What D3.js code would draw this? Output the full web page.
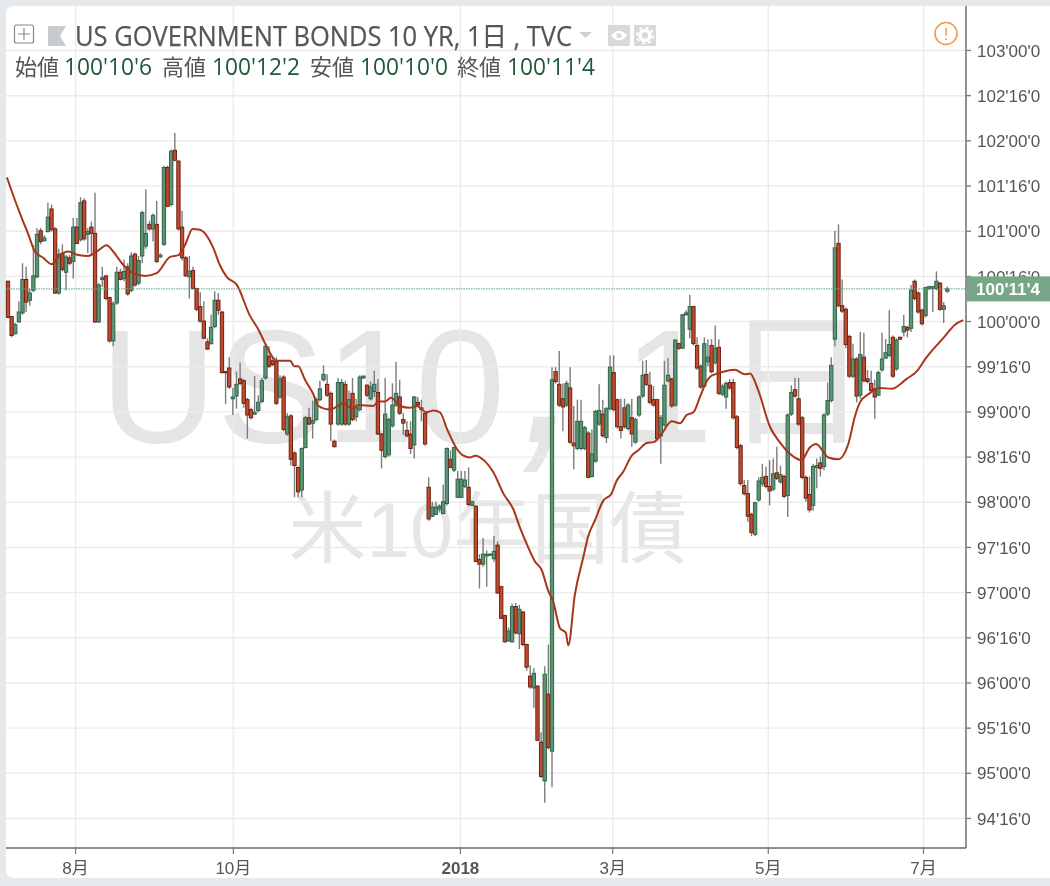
<!DOCTYPE html>
<html><head><meta charset="utf-8">
<script src="https://cdn.jsdelivr.net/npm/d3@7"></script>
<style>
html,body{margin:0;padding:0;background:#e6e9ec;overflow:hidden}
svg{display:block;filter:blur(0.35px)}
text{font-family:"Liberation Sans",Arial,sans-serif}
</style></head><body>
<svg id="c" width="1050" height="886"></svg>
<script>
const chartTitle = "US GOVERNMENT BONDS 10 YR, 1日 , TVC";
const watermarkSub = "米10年国債";
const ohlcLabels = ["始値","高値","安値","終値"];
const ohlcValues = ["100'10'6","100'12'2","100'10'0","100'11'4"];
const lastLabel = "100'11'4";
const lastClose = 100.356;
const priceTicks = [103,102.5,102,101.5,101,100.5,100,99.5,99,98.5,98,97.5,97,96.5,96,95.5,95,94.5];
const monthLabels = ["8月","10月","2018","3月","5月","7月"];
const monthSessions = [18.5,62,124.6,166.6,209.5,252.3];

const opens = [
100.44,100.05,99.86,99.99,100.09,100.46,100.23,100.34,100.49,101.00,
100.89,100.99,101.24,101.02,100.31,100.75,100.54,100.70,100.66,101.04,
100.90,101.33,100.96,101.04,100.97,99.99,100.46,100.50,100.26,99.78,
100.20,100.54,100.47,100.60,100.34,100.74,100.42,100.72,100.83,101.07,
101.02,101.07,100.71,100.85,101.70,101.29,101.89,101.77,101.04,100.70,
100.49,100.56,100.36,100.16,100.00,99.77,99.75,99.94,100.23,100.10,
99.44,99.48,99.14,99.17,99.36,99.34,99.13,99.02,98.97,99.01,
99.11,99.37,99.61,99.56,99.55,99.16,99.38,98.75,98.95,98.54,
98.38,98.13,98.60,98.93,98.87,98.91,99.13,99.35,99.30,99.20,
98.67,98.86,98.86,99.30,98.86,99.20,98.94,99.02,99.37,99.29,
99.14,99.22,99.21,98.75,98.50,98.52,98.84,99.07,99.16,98.91,
98.79,98.75,98.63,99.10,99.02,98.98,98.16,97.84,97.86,97.92,
97.87,97.98,98.47,98.35,98.05,98.05,98.17,98.16,97.96,97.95,
97.36,97.31,97.40,97.41,97.37,97.52,97.06,96.74,96.46,96.45,
96.84,96.54,96.78,96.42,96.07,95.94,95.96,95.34,94.91,95.87,
95.24,99.44,99.30,99.14,99.07,99.26,98.65,98.59,98.59,98.59,
98.76,98.28,98.45,98.86,98.97,98.71,99.03,99.43,99.13,98.83,
99.04,98.81,98.93,98.66,98.96,99.17,99.41,99.29,99.13,99.13,
98.73,98.85,99.34,99.36,99.07,99.75,99.70,100.07,99.91,100.16,
99.73,99.50,99.28,99.55,99.73,99.54,99.71,99.19,99.16,99.32,
99.32,98.94,98.62,98.18,98.09,97.86,97.64,98.02,98.20,98.28,
98.17,98.14,98.32,98.22,98.28,98.07,98.97,99.24,99.14,98.93,
98.27,98.08,97.96,98.38,98.43,98.39,98.97,99.12,99.80,100.86,
100.17,100.13,99.83,99.39,99.58,99.18,99.60,99.36,99.31,99.25,
99.18,99.46,99.59,99.62,99.82,99.47,99.82,99.88,99.93,99.92,
100.44,100.31,100.12,100.06,100.36,100.36,100.36,100.42,100.13,100.33];
const highs = [
100.45,100.05,99.98,100.22,100.64,100.60,100.36,100.84,101.03,101.03,
100.95,101.31,101.29,101.04,100.80,100.85,100.73,100.73,101.14,101.14,
101.37,101.36,101.03,101.10,101.42,100.42,100.60,100.51,100.27,100.22,
100.60,100.58,100.68,100.64,100.76,100.76,100.72,101.22,101.46,101.11,
101.19,101.33,100.75,101.72,101.72,101.90,102.08,101.78,101.22,100.72,
100.72,100.60,100.37,100.32,100.22,99.81,100.07,100.33,100.31,100.11,
99.45,99.60,99.26,99.44,99.54,99.36,99.15,99.04,99.39,99.18,
99.37,99.74,99.72,99.60,99.60,99.40,99.40,98.98,98.97,98.56,
98.39,98.60,98.95,99.04,99.12,99.15,99.34,99.51,99.41,99.22,
98.69,99.37,99.36,99.34,99.23,99.37,99.14,99.40,99.40,99.30,
99.33,99.45,99.36,98.76,99.37,98.93,99.31,99.55,99.35,98.98,
98.89,98.89,99.17,99.16,99.13,98.99,98.27,98.00,98.00,97.97,
98.19,98.60,98.57,98.61,98.34,98.34,98.34,98.38,98.01,97.96,
97.42,97.60,97.46,97.43,97.62,97.56,97.07,96.75,96.61,96.87,
96.88,96.86,96.79,96.43,96.19,96.16,95.97,95.45,96.18,96.42,
99.49,99.49,99.67,99.31,99.34,99.49,99.06,99.13,99.13,98.84,
98.78,98.80,99.02,99.30,99.13,99.05,99.62,99.62,99.14,99.14,
99.14,99.09,99.14,98.93,99.18,99.56,99.57,99.44,99.28,99.14,
98.96,99.56,99.59,99.37,99.80,99.76,100.08,100.12,100.29,100.17,
99.82,99.52,99.82,99.80,99.80,99.95,99.80,99.30,99.33,99.36,
99.36,98.96,98.64,98.24,98.24,97.88,98.00,98.27,98.42,98.39,
98.46,98.48,98.61,98.40,98.30,98.98,99.29,99.37,99.37,98.95,
98.29,98.28,98.42,98.48,98.50,98.98,99.32,99.60,101.00,101.07,
100.46,100.15,99.85,99.75,99.60,99.88,99.87,99.46,99.45,99.35,
99.45,99.87,99.80,100.12,99.84,99.81,99.83,100.07,99.95,100.40,
100.46,100.33,100.14,100.38,100.39,100.39,100.55,100.43,100.21,100.38];
const lows = [
100.03,99.82,99.85,99.98,100.07,100.10,100.17,100.32,100.47,100.85,
100.88,100.98,100.99,100.30,100.29,100.55,100.34,100.62,100.47,100.85,
100.88,100.89,100.75,100.73,99.98,99.98,100.38,100.23,99.76,99.72,
100.18,100.45,100.44,100.28,100.32,100.38,100.40,100.64,100.80,101.00,
100.88,100.64,100.70,100.83,101.26,101.27,101.77,101.00,100.67,100.49,
100.25,100.35,100.11,99.98,99.80,99.68,99.74,99.92,100.07,99.42,
99.08,99.25,98.96,99.03,99.29,99.04,98.70,98.91,98.96,98.99,
99.09,99.35,99.48,99.50,99.07,99.14,98.78,98.73,98.40,98.05,
98.05,98.05,98.59,98.85,98.70,98.89,99.11,99.33,99.16,98.67,
98.60,98.84,98.84,98.84,98.84,98.89,98.89,99.00,99.36,99.16,
99.12,99.16,98.74,98.37,98.48,98.50,98.82,99.05,98.96,98.74,
98.71,98.53,98.48,99.05,98.89,98.62,97.79,97.83,97.85,97.88,
97.86,97.96,98.37,98.33,98.04,98.04,98.15,97.95,97.95,97.33,
97.04,97.28,97.06,97.40,97.34,96.98,96.70,96.44,96.45,96.44,
96.53,96.37,96.40,96.13,95.93,95.72,95.35,94.94,94.67,95.26,
94.84,99.31,99.05,98.78,99.05,98.64,98.36,98.57,98.57,98.57,
98.26,98.27,98.43,98.84,98.71,98.65,99.01,99.00,98.81,98.70,
98.81,98.79,98.61,98.64,98.94,99.15,99.28,99.08,99.05,98.68,
98.42,98.83,99.32,99.04,99.05,99.68,99.69,100.06,99.81,99.73,
99.46,99.25,99.26,99.50,99.42,99.52,99.18,99.17,99.03,99.24,
98.91,98.58,98.18,98.07,97.78,97.62,97.62,98.00,98.17,98.15,
97.96,98.12,98.24,98.20,98.04,97.83,98.95,99.15,98.84,98.25,
98.00,97.88,97.90,98.15,98.28,98.35,98.95,99.10,99.72,100.15,
100.09,99.70,99.37,99.37,99.10,99.14,99.32,99.31,99.20,98.92,
99.17,99.44,99.58,99.60,99.37,99.45,99.79,99.83,99.82,99.88,
100.23,100.08,99.95,100.04,100.34,100.10,100.34,100.11,99.98,100.3125];
const closes = [
100.04,99.84,99.96,100.10,100.46,100.21,100.31,100.50,100.96,100.88,
100.92,101.15,101.01,100.31,100.74,100.57,100.71,100.64,101.04,100.86,
101.31,100.91,100.99,100.97,99.99,100.40,100.48,100.25,99.78,100.19,
100.54,100.46,100.55,100.30,100.72,100.40,100.67,101.20,100.97,101.02,
101.17,100.66,100.73,101.70,101.27,101.88,101.78,101.02,100.70,100.50,
100.55,100.36,100.13,100.00,99.81,99.69,99.93,100.23,100.12,99.43,
99.43,99.27,99.16,99.30,99.31,99.09,98.96,98.93,98.99,99.10,
99.34,99.72,99.50,99.52,99.09,99.36,98.80,98.94,98.47,98.40,
98.11,98.59,98.93,98.86,98.90,99.13,99.25,99.41,99.18,98.86,
98.61,99.32,99.32,98.86,99.13,98.91,99.04,99.38,99.39,99.18,
99.27,99.30,98.75,98.57,98.97,98.91,99.07,99.20,98.98,98.87,
98.73,98.59,99.16,99.07,99.04,98.64,97.81,97.94,97.94,97.95,
98.00,98.59,98.38,98.60,98.25,98.25,98.24,97.97,98.00,97.34,
97.31,97.42,97.42,97.42,97.45,96.99,96.71,96.45,96.57,96.84,
96.55,96.81,96.42,96.17,95.95,96.10,95.36,94.96,96.09,95.28,
99.35,99.33,99.07,99.05,99.31,98.66,98.62,98.89,98.89,98.82,
98.27,98.53,99.00,99.01,98.73,99.03,99.49,99.02,98.83,98.79,
98.83,99.07,98.75,98.91,99.16,99.40,99.30,99.10,99.07,98.70,
98.93,99.29,99.40,99.06,99.79,99.70,100.07,100.09,100.16,99.75,
99.48,99.27,99.75,99.60,99.44,99.70,99.20,99.28,99.31,99.26,
98.93,98.60,98.20,98.09,97.84,97.66,97.99,98.23,98.27,98.17,
98.12,98.31,98.26,98.30,98.06,98.96,99.21,99.17,98.86,98.27,
98.04,97.91,98.39,98.40,98.37,98.96,99.12,99.51,100.81,100.17,
100.11,99.74,99.39,99.58,99.17,99.63,99.34,99.33,99.23,99.16,
99.43,99.58,99.65,99.74,99.39,99.79,99.80,99.94,99.90,100.34,
100.25,100.10,99.97,100.37,100.38,100.38,100.44,100.13,100.17,100.356];
const maSessions = [-0.3,1.9,3.8,5.6,7.4,9.7,12,14.3,16.6,19.4,22.1,24.5,27.2,29,31.4,34.1,37.8,41,44.7,47,48.8,50.9,52.9,56.6,58.4,60.3,63.1,66.7,69,71.3,74.1,77.8,78.9,80,81.9,84.2,85.6,88.8,92.5,94.8,96.6,100.7,102.1,103.9,105.6,108.1,110.8,112.7,115.4,117.3,119.1,121,123.7,125.6,127.4,128.8,131.5,133.8,136.6,139.3,141.2,143.5,145.3,147.1,149,150.3,152.2,153.8,154.5,156.3,158.6,160,161.8,164.1,166.4,167.8,169.6,172,173.8,176.1,178,180.2,183,185.3,187.1,189,190.8,192.6,193.5,194.9,197.2,200.4,203.2,204.6,206.9,210.1,212.8,215.1,218.8,221.1,222.8,226.2,228.9,231.7,233.5,234.9,237.6,240.4,243.6,247.8,250.5,253.3,258.3,261.1,263.4];
const maValues = [101.59,101.34,101.14,100.96,100.77,100.70,100.63,100.73,100.77,100.73,100.72,100.77,100.84,100.77,100.64,100.54,100.50,100.53,100.71,100.73,100.84,101.02,101.01,100.81,100.62,100.49,100.40,100.06,99.91,99.72,99.56,99.56,99.50,99.50,99.35,99.19,99.06,99.02,99.09,99.03,99.07,99.06,99.11,99.11,99.15,99.06,99.04,99.06,98.99,99.01,98.99,98.81,98.59,98.51,98.49,98.51,98.45,98.33,98.09,97.92,97.71,97.49,97.34,97.25,97.01,96.90,96.60,96.55,96.41,96.97,97.38,97.62,97.79,98.01,98.09,98.23,98.33,98.51,98.57,98.65,98.66,98.75,98.89,98.87,98.96,98.99,99.16,99.33,99.38,99.41,99.44,99.46,99.41,99.42,99.23,98.83,98.66,98.55,98.46,98.60,98.64,98.49,98.47,98.64,98.94,99.10,99.20,99.26,99.25,99.36,99.44,99.60,99.83,99.96,100.01];

const W = 1050, H = 886, L = 6, T = 6, R = 966, B = 848;
const svg = d3.select("#c");
const y = d3.scaleLinear().domain([94.5,103]).range([818,50]);
const x = d3.scaleLinear().domain([0,259]).range([8,947.3]);
const fmt = v => { const i = Math.floor(v); const n = Math.round((v-i)*32); return i+"'"+String(n).padStart(2,"0")+"'0"; };

// panel
svg.append("rect").attr("x",L).attr("y",T).attr("width",W-L+10).attr("height",878-T).attr("rx",7).attr("fill","#fff");

// watermark: one text, its glyph groups sized and placed to follow the reference's wide comma and kanji
const wm = svg.append("text").attr("y",442).attr("font-size",162).attr("fill","#e5e5e5");
wm.append("tspan").attr("x",100).text("US10");
wm.append("tspan").attr("x",518).attr("y",442).attr("font-size",235).style("font-style","italic").text(",");
wm.append("tspan").attr("x",578).attr("y",442).text(" 1");
wm.append("tspan").attr("x",724).attr("y",433).attr("font-size",145).style("font-family",'"Noto Sans CJK JP"').text("日");
svg.append("text").attr("x",488).attr("y",557).attr("text-anchor","middle").attr("font-size",78).attr("fill","#e6e6e6").style("font-family",'"Liberation Sans","Noto Sans CJK JP"').text(watermarkSub);

// grid
const gridY = svg.append("g").attr("transform",`translate(${L},0)`).call(d3.axisRight(y).tickValues(priceTicks).tickSize(R-L).tickFormat(""));
gridY.select(".domain").remove();
gridY.selectAll("line").attr("stroke","#ebebeb").attr("stroke-width",1.4);
const gridX = svg.append("g").attr("transform",`translate(0,${T})`).call(d3.axisBottom(x).tickValues(monthSessions).tickSize(B-T).tickFormat(""));
gridX.select(".domain").remove();
gridX.selectAll("line").attr("stroke","#ebebeb").attr("stroke-width",1.4);

// candles
const idx = d3.range(closes.length);
svg.append("g").selectAll("line").data(idx).join("line")
  .attr("x1",i=>x(i)).attr("x2",i=>x(i)).attr("y1",i=>y(highs[i])).attr("y2",i=>y(lows[i]))
  .attr("stroke","#7c7c7c").attr("stroke-width",1.4);
const bodyW = 3.3;
svg.append("g").selectAll("rect").data(idx).join("rect")
  .attr("x",i=>x(i)-bodyW/2).attr("width",bodyW)
  .attr("y",i=>y(Math.max(opens[i],closes[i])))
  .attr("height",i=>Math.max(1,Math.abs(y(opens[i])-y(closes[i]))))
  .attr("fill",i=>closes[i]>=opens[i]?"#5d9476":"#c44a2f")
  .attr("stroke",i=>closes[i]>=opens[i]?"#2f6549":"#6b2212")
  .attr("stroke-width",1);

// moving average
svg.append("path").datum(maSessions)
  .attr("fill","none").attr("stroke","#a8361c").attr("stroke-width",2).attr("stroke-linejoin","round")
  .attr("d",d3.line().x(s=>x(s)).y((s,i)=>y(maValues[i])).curve(d3.curveMonotoneX));

// last price line
svg.append("line").attr("x1",L).attr("x2",R).attr("y1",y(lastClose)).attr("y2",y(lastClose))
  .attr("stroke","#5fa37c").attr("stroke-width",1).attr("stroke-dasharray","1.5,1");

// y axis
const ya = svg.append("g").attr("transform",`translate(${R},0)`).call(d3.axisRight(y).tickValues(priceTicks).tickSize(5).tickPadding(6).tickFormat(fmt));
ya.select(".domain").attr("d",`M0,${T}V${B}`).attr("stroke","#777").attr("stroke-width",1.6);
ya.selectAll("line").attr("stroke","#777").attr("stroke-width",1.3);
ya.selectAll("text").attr("font-size",17).attr("fill","#555").style("font-family",'"Liberation Sans"').attr("dy","0.36em");

// x axis
const xa = svg.append("g").attr("transform",`translate(0,${B})`).call(d3.axisBottom(x).tickValues(monthSessions).tickSize(6).tickPadding(8).tickFormat((d,i)=>monthLabels[i]));
xa.select(".domain").attr("d",`M${L},0H${R}`).attr("stroke","#666").attr("stroke-width",1.6);
xa.selectAll("line").attr("stroke","#777").attr("stroke-width",1.2);
xa.selectAll("text").attr("font-size",17).attr("fill","#555").style("font-family",'"Liberation Sans","Noto Sans CJK JP"').style("font-weight",(d,i)=>monthLabels[i]==="2018"?"bold":"normal");

// last price box
svg.append("rect").attr("x",967).attr("y",y(lastClose)-12.5).attr("width",83).attr("height",25).attr("fill","#77a688");
svg.append("text").attr("x",1008).attr("y",y(lastClose)+6.5).attr("text-anchor","middle").attr("font-size",17).attr("font-weight","bold").attr("fill","#fff").text(lastLabel);

// header
const ico = svg.append("g");
ico.append("rect").attr("x",14.5).attr("y",25).attr("width",19).attr("height",18).attr("rx",2).attr("fill","#fff").attr("stroke","#8a8a8a").attr("stroke-width",1.2);
ico.append("path").attr("d","M18,34H30M24,28V40").attr("stroke","#8a8a8a").attr("stroke-width",1.2);
ico.append("path").attr("d","M48,26H66L60,36L66,46H48Z").attr("fill","#c6ccce");
svg.append("text").attr("x",75).attr("y",46).attr("font-size",26.5).attr("fill","#565656").attr("stroke","#565656").attr("stroke-width",0.25)
  .attr("textLength",497).attr("lengthAdjust","spacingAndGlyphs").style("font-family",'"Open Sans","Noto Sans CJK JP"').text(chartTitle);
ico.append("path").attr("d","M579,32H592L585.5,38Z").attr("fill","#d2d2d2");
ico.append("rect").attr("x",608).attr("y",25).attr("width",22).attr("height",21).attr("fill","#d9d9d9");
ico.append("rect").attr("x",634).attr("y",25).attr("width",22).attr("height",21).attr("fill","#d9d9d9");
ico.append("path").attr("d","M611,35.5Q619,26 627,35.5Q619,45 611,35.5Z").attr("fill","#fff");
ico.append("circle").attr("cx",619).attr("cy",35.5).attr("r",2.6).attr("fill","#d9d9d9");
ico.append("circle").attr("cx",645).attr("cy",35.5).attr("r",5).attr("fill","none").attr("stroke","#fff").attr("stroke-width",3.5);
ico.append("circle").attr("cx",645).attr("cy",35.5).attr("r",8).attr("fill","none").attr("stroke","#fff").attr("stroke-width",2).attr("stroke-dasharray","3,3.3");
ico.append("circle").attr("cx",946).attr("cy",33.5).attr("r",11).attr("fill","#fff").attr("stroke","#f09a50").attr("stroke-width",1.6);
svg.append("text").attr("x",946).attr("y",40).attr("text-anchor","middle").attr("font-size",17).attr("fill","#f09a50").text("!");

const labelX = [15,162,310,457], valueX = [64,212,360,507];
ohlcLabels.forEach((t,i)=>{
  svg.append("text").attr("x",labelX[i]).attr("y",75).attr("font-size",22).attr("fill","#555").style("font-family",'"Noto Sans CJK JP"').text(t);
  svg.append("text").attr("x",valueX[i]).attr("y",75).attr("font-size",23).attr("fill","#1f5a38").attr("textLength",88).attr("lengthAdjust","spacingAndGlyphs").style("font-family",'"Open Sans"').text(ohlcValues[i]);
});
</script></body></html>
